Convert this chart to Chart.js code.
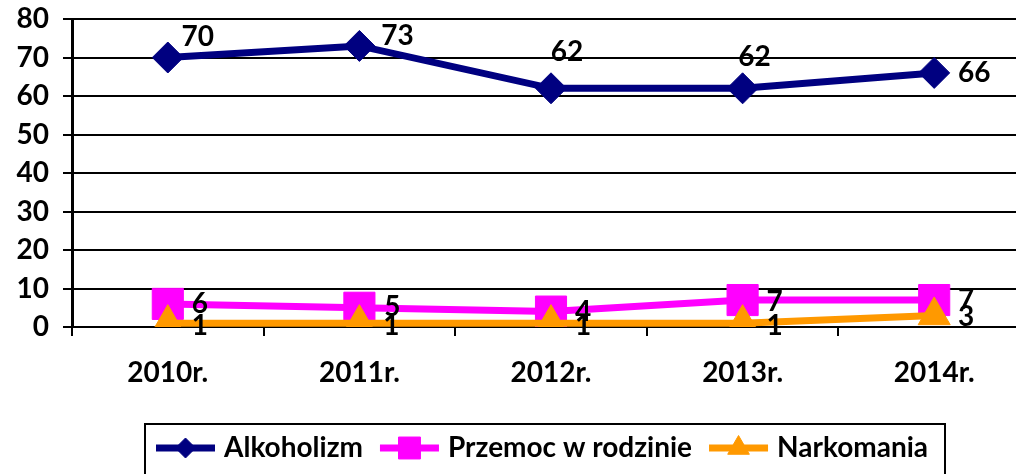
<!DOCTYPE html>
<html>
<head>
<meta charset="utf-8">
<script src="https://cdn.jsdelivr.net/npm/chart.js@4.4.0/dist/chart.umd.min.js"></script>
<style>
html, body { margin: 0; padding: 0; background: #fff; overflow: hidden; }
#wrap { width: 1030px; height: 474px; }
</style>
</head>
<body>
<div id="wrap"><canvas id="c" width="1030" height="474"></canvas></div>
<script>
'use strict';

var years = ['2010r.', '2011r.', '2012r.', '2013r.', '2014r.'];
var alkoholizm = [70, 73, 62, 62, 66];
var przemoc = [6, 5, 4, 7, 7];
var narkomania = [1, 1, 1, 1, 3];
var yMin = 0;
var yMax = 80;
var yStep = 10;

var seriesNames = ['Alkoholizm', 'Przemoc w rodzinie', 'Narkomania'];
var seriesColors = ['#000080', '#ff00ff', '#ff9900'];

// marker shapes in the legend are smaller than on the plot
var legendMarkers = [
    { style: 'rectRot', radius: 10 },
    { style: 'rect', radius: 15.5 },
    { style: 'triangle', radius: 12.5 }
];

// label offset from its point, px (the top row was placed by hand in the original)
var labelShift = [
    [[30, -21], [38, -10], [16, -36], [12, -31], [40, 0]],
    [[32, 0], [33, -1], [32, 0], [32, 2], [32, 0]],
    [[32, 3], [32, 3], [32, 3], [32, 3], [32, 2]]
];

var FONT = 'Lato';
var FS = 28;
var SAMPLE_W = 59;
var LEGEND_NUDGE = -9;

var pointLabels = {
    id: 'pointLabels',
    afterDatasetsDraw: function (chart) {
        var ctx = chart.ctx;
        ctx.save();
        ctx.font = 'bold ' + FS + 'px ' + FONT;
        ctx.fillStyle = '#000';
        ctx.textAlign = 'center';
        ctx.textBaseline = 'middle';
        chart.data.datasets.forEach(function (ds, di) {
            var meta = chart.getDatasetMeta(di);
            meta.data.forEach(function (pt, i) {
                var sh = labelShift[di][i];
                ctx.fillText(String(ds.data[i]), pt.x + sh[0], pt.y + sh[1]);
            });
        });
        ctx.restore();
    }
};

var legendDecor = {
    id: 'legendDecor',
    afterLayout: function (chart) {
        var lg = chart.legend;
        if (!lg) return;
        lg.left += LEGEND_NUDGE;
        lg.right += LEGEND_NUDGE;
    },
    afterDraw: function (chart) {
        var lg = chart.legend;
        if (!lg || !lg.legendHitBoxes || !lg.legendHitBoxes.length) return;
        var ctx = chart.ctx;
        var fs = lg.options.labels.font.size;
        var hbs = lg.legendHitBoxes;
        ctx.save();
        hbs.forEach(function (hb, i) {
            var m = legendMarkers[i];
            var cy = hb.top + fs / 2;
            ctx.strokeStyle = seriesColors[i];
            ctx.lineWidth = 7;
            ctx.beginPath();
            ctx.moveTo(hb.left, cy);
            ctx.lineTo(hb.left + SAMPLE_W, cy);
            ctx.stroke();
            ctx.fillStyle = seriesColors[i];
            ctx.lineWidth = 1;
            Chart.helpers.drawPoint(ctx, { pointStyle: m.style, radius: m.radius, rotation: 0, borderWidth: 1 },
                hb.left + SAMPLE_W / 2, cy);
        });
        var first = hbs[0];
        var last = hbs[hbs.length - 1];
        var left = first.left - 11;
        var right = last.left + last.width + 17;
        var top = first.top + fs / 2 - 24;
        ctx.strokeStyle = '#000';
        ctx.lineWidth = 2;
        ctx.strokeRect(left, top, right - left, 100);
        ctx.restore();
    }
};

function makeSet(i, data, style, radius, order) {
    return {
        label: seriesNames[i],
        data: data,
        borderColor: seriesColors[i],
        backgroundColor: seriesColors[i],
        borderWidth: 7,
        pointStyle: style,
        pointRadius: radius,
        pointHoverRadius: radius,
        pointBackgroundColor: seriesColors[i],
        pointBorderColor: seriesColors[i],
        pointBorderWidth: 1,
        tension: 0,
        order: order
    };
}

new Chart(document.getElementById('c'), {
    type: 'line',
    data: {
        labels: years,
        datasets: [
            makeSet(0, alkoholizm, 'rectRot', 15.5, 0),
            makeSet(1, przemoc, 'rect', 22, 2),
            makeSet(2, narkomania, 'triangle', 18.5, 1)
        ]
    },
    options: {
        responsive: false,
        animation: false,
        layout: { autoPadding: false, padding: { top: 19, right: 0, left: 0, bottom: 2 } },
        plugins: {
            tooltip: { enabled: false },
            legend: {
                position: 'bottom',
                fullSize: false,
                labels: {
                    boxWidth: 54,
                    boxHeight: 7,
                    padding: 17,
                    color: '#000',
                    font: { family: FONT, size: FS, weight: 'bold' },
                    sort: function (a, b) { return a.datasetIndex - b.datasetIndex; },
                    generateLabels: function (chart) {
                        var items = Chart.defaults.plugins.legend.labels.generateLabels(chart);
                        items.forEach(function (it) {
                            it.fillStyle = 'rgba(0,0,0,0)';
                            it.strokeStyle = 'rgba(0,0,0,0)';
                            it.lineWidth = 0;
                        });
                        return items;
                    }
                }
            }
        },
        scales: {
            x: {
                offset: true,
                afterFit: function (s) { s.height = 90; s.paddingLeft = 0; s.paddingRight = 0; },
                grid: { offset: true, drawOnChartArea: false, drawTicks: true, tickLength: 9, color: '#000', lineWidth: 2 },
                border: { color: '#000', width: 2 },
                ticks: { color: '#000', padding: 20, font: { family: FONT, size: FS, weight: 'bold' }, maxRotation: 0 }
            },
            y: {
                min: yMin,
                max: yMax,
                afterFit: function (s) { s.width = 72; s.paddingTop = 0; s.paddingBottom = 0; },
                grid: { color: '#000', lineWidth: 2, tickLength: 9 },
                border: { color: '#000', width: 3 },
                ticks: { stepSize: yStep, color: '#000', padding: 14, font: { family: FONT, size: FS, weight: 'bold' } }
            }
        }
    },
    plugins: [pointLabels, legendDecor]
});
</script>
</body>
</html>
